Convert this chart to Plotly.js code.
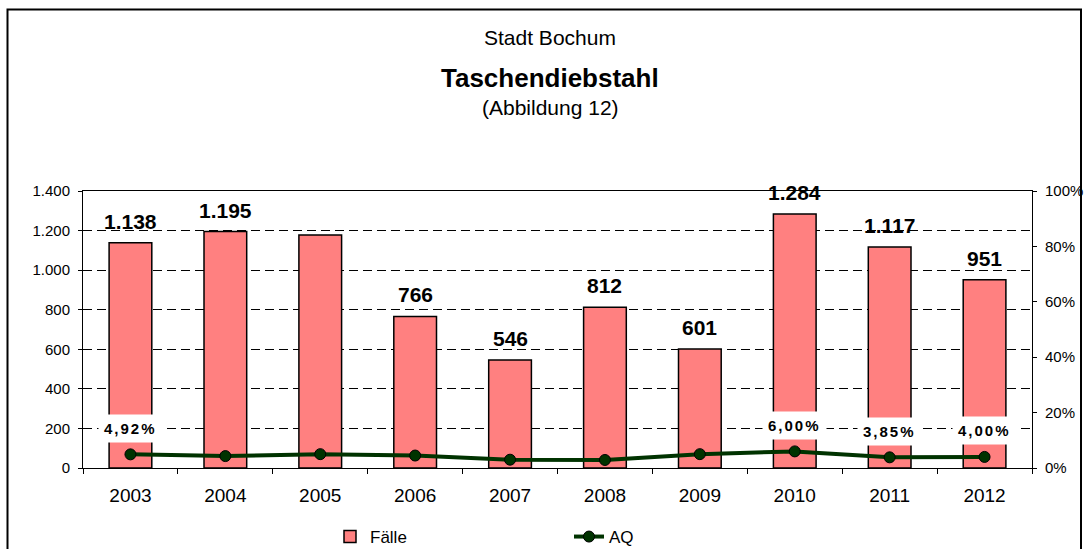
<!DOCTYPE html>
<html><head><meta charset="utf-8">
<script src="https://cdn.plot.ly/plotly-3.0.1.min.js"></script>
<style>html,body{margin:0;padding:0;background:#fff}#chart{width:1085px;height:549px}</style>
</head><body><div id="chart"></div>
<script>
const years = ['2003','2004','2005','2006','2007','2008','2009','2010','2011','2012'];
const faelle = [1138, 1195, 1178, 766, 546, 812, 601, 1284, 1117, 951];
const faelleLabels = ['1.138','1.195','','766','546','812','601','1.284','1.117','951'];
const aq = [4.92, 4.3, 5.0, 4.5, 3.0, 2.9, 5.0, 6.00, 3.85, 4.00];
const aqLabels = ['4,92%','','','','','','','6,00%','3,85%','4,00%'];

const FONT = 'Liberation Sans, Arial, sans-serif';
const W = 1085, H = 549, L = 83, R = 53, T = 191, B = 81;
const pw = W - L - R, ph = H - T - B;
const px2x = X => (X - L) / pw;
const px2y = Y => (H - B - Y) / ph;

const traces = [
  {type:'bar', name:'Fälle', x:years, y:faelle,
   marker:{color:'#FF8080', line:{color:'#000', width:1.5}}, yaxis:'y'},
  {type:'scatter', mode:'lines+markers', name:'AQ', x:years, y:aq, yaxis:'y2',
   line:{color:'#003300', width:4},
   marker:{size:11, color:'#003300', line:{color:'#000', width:1}}}
];

const annotations = [];
years.forEach((yr,i) => {
  if (faelleLabels[i]) annotations.push({x:i, y:faelle[i], xref:'x', yref:'y', text:'<b>'+faelleLabels[i]+'</b>',
    showarrow:false, yanchor:'bottom', yshift:8, font:{family:FONT, size:21, color:'#000'}});
  if (aqLabels[i]) annotations.push({x:i, y:aq[i], xref:'x', yref:'y2',
    text:'<span style="letter-spacing:2px"><b>'+aqLabels[i]+'</b></span>',
    showarrow:false, yanchor:'middle', yshift:26, bgcolor:'#fff', borderpad:5,
    font:{family:FONT, size:15, color:'#000'}});
});
annotations.push(
  {xref:'paper', yref:'paper', x:px2x(550), y:px2y(38), xanchor:'center', yanchor:'middle',
   text:'Stadt Bochum', showarrow:false, font:{family:FONT, size:21, color:'#000'}},
  {xref:'paper', yref:'paper', x:px2x(550), y:px2y(78), xanchor:'center', yanchor:'middle',
   text:'<b>Taschendiebstahl</b>', showarrow:false, font:{family:FONT, size:26, color:'#000'}},
  {xref:'paper', yref:'paper', x:px2x(550), y:px2y(108), xanchor:'center', yanchor:'middle',
   text:'(Abbildung 12)', showarrow:false, font:{family:FONT, size:21, color:'#000'}}
);

const layout = {
  width:W, height:H, margin:{l:L, r:R, t:T, b:B, autoexpand:false},
  paper_bgcolor:'#fff', plot_bgcolor:'#fff',
  separators:',.',
  font:{family:FONT, color:'#000'},
  showlegend:true, bargap:0.55,
  xaxis:{type:'category', range:[-0.5, 9.5], showline:true, linecolor:'#000', linewidth:1, mirror:true,
    ticks:'outside', ticklen:5, tickcolor:'#000', tickson:'boundaries', tickangle:0, ticklabelstandoff:10,
    tickfont:{family:FONT, size:19}, showgrid:false},
  yaxis:{range:[0,1400], dtick:200, separatethousands:true, tickformat:',d', ticklabelstandoff:5,
    showline:true, linecolor:'#000', linewidth:1, ticks:'outside', ticklen:4, tickcolor:'#000',
    showgrid:true, gridcolor:'#000', gridwidth:1, griddash:'9px,5px', zeroline:false,
    tickfont:{family:FONT, size:15}},
  yaxis2:{range:[0,100], dtick:20, ticksuffix:'%', overlaying:'y', side:'right', ticklabelstandoff:5,
    showline:true, linecolor:'#000', linewidth:1, ticks:'outside', ticklen:4, tickcolor:'#000',
    showgrid:false, zeroline:false, tickfont:{family:FONT, size:15}},
  legend:{orientation:'h', x:px2x(330), xanchor:'left', y:px2y(537), yanchor:'middle',
    entrywidth:194, font:{family:FONT, size:17}, bgcolor:'rgba(0,0,0,0)'},
  annotations:annotations,
  shapes:[{type:'rect', xref:'paper', yref:'paper', x0:px2x(7.5), x1:px2x(1081), y0:px2y(600), y1:px2y(9.5),
    line:{color:'#000', width:2}, fillcolor:'rgba(0,0,0,0)', layer:'below'}]
};
Plotly.newPlot('chart', traces, layout, {displayModeBar:false, staticPlot:true});
</script></body></html>
